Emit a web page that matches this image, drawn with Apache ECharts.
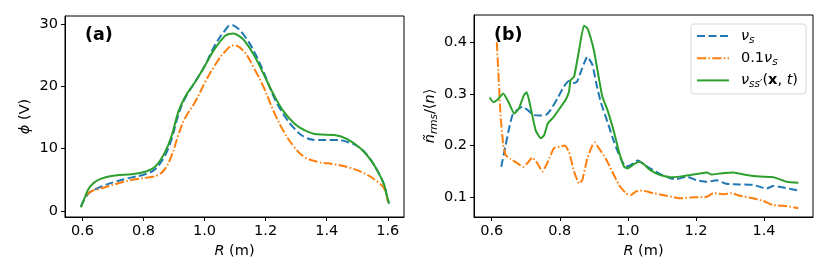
<!DOCTYPE html>
<html>
<head>
<meta charset="utf-8">
<script src="https://cdn.jsdelivr.net/npm/echarts@6/dist/echarts.min.js"></script>
<style>html,body{margin:0;padding:0;background:#fff}#c{width:830px;height:277px}</style>
</head>
<body>
<div id="c"></div>
<script>
// ---- Panel (a): potential phi (V) vs R (m)
const aBlueR = [0.595,0.62,0.652,0.707,0.762,0.805,0.838,0.871,0.893,0.914,0.936,0.969,1.002,1.034,1.067,1.085,1.097,1.129,1.162,1.195,1.227,1.26,1.293,1.326,1.369,1.424,1.467,1.511,1.544,1.571,1.588,1.596,1.604];
const aBlue  = [0.7,2.8,3.7,4.7,5.4,5.9,6.7,9.0,11.7,15.4,18.1,20.7,23.4,26.6,29.0,29.8,29.7,28.2,25.6,22.1,18.3,15.4,13.3,11.9,11.4,11.4,11.1,10.05,8.2,6.0,4.2,2.6,1.2];
const aOrangeR = [0.615,0.63,0.652,0.707,0.762,0.816,0.849,0.871,0.893,0.914,0.936,0.969,1.002,1.034,1.067,1.097,1.129,1.162,1.195,1.227,1.26,1.293,1.326,1.369,1.424,1.479,1.533,1.566,1.588,1.6];
const aOrange  = [2.6,3.2,3.5,4.3,5.0,5.4,5.8,6.8,9.0,12.2,14.9,17.5,20.7,23.4,25.6,26.6,25.6,22.9,19.7,15.9,12.7,10.3,8.7,7.9,7.5,6.9,5.8,4.7,3.6,1.5];
const aGreenR = [0.595,0.609,0.625,0.652,0.707,0.762,0.805,0.838,0.871,0.893,0.914,0.936,0.969,1.002,1.034,1.067,1.08,1.095,1.112,1.129,1.162,1.195,1.227,1.26,1.293,1.326,1.369,1.424,1.467,1.511,1.544,1.571,1.588,1.596,1.604];
const aGreen  = [0.6,2.3,3.9,5.0,5.7,5.9,6.3,7.1,9.5,12.2,15.9,18.3,20.7,23.4,26.1,28.1,28.4,28.5,28.1,27.4,25.0,21.8,18.6,15.9,14.1,13.0,12.3,12.2,11.55,10.05,8.2,6.0,4.2,2.6,1.2];

// ---- Panel (b): n_rms/<n> vs R (m)
const bBlueR = [0.628,0.641,0.651,0.661,0.675,0.69,0.705,0.724,0.744,0.759,0.773,0.793,0.812,0.827,0.842,0.851,0.866,0.881,0.896,0.906,0.92,0.94,0.959,0.979,0.994,1.008,1.028,1.036,1.065,1.095,1.124,1.143,1.173,1.202,1.232,1.261,1.29,1.329,1.368,1.408,1.427,1.457,1.501];
const bBlue  = [0.159,0.201,0.233,0.259,0.269,0.275,0.269,0.259,0.258,0.259,0.269,0.291,0.314,0.325,0.321,0.324,0.35,0.372,0.356,0.324,0.285,0.246,0.208,0.175,0.159,0.162,0.171,0.169,0.156,0.145,0.137,0.135,0.14,0.133,0.13,0.133,0.126,0.125,0.124,0.117,0.122,0.119,0.113];
const bOrangeR = [0.615,0.621,0.626,0.634,0.641,0.656,0.675,0.693,0.705,0.719,0.734,0.749,0.763,0.783,0.801,0.814,0.827,0.842,0.857,0.866,0.881,0.896,0.903,0.915,0.935,0.954,0.974,0.994,1.008,1.023,1.042,1.075,1.114,1.153,1.192,1.232,1.251,1.28,1.305,1.329,1.368,1.398,1.427,1.467,1.501];
const bOrange  = [0.40,0.324,0.259,0.201,0.182,0.174,0.166,0.159,0.166,0.177,0.166,0.15,0.166,0.195,0.198,0.2,0.188,0.15,0.127,0.133,0.175,0.201,0.206,0.195,0.175,0.15,0.124,0.108,0.104,0.111,0.113,0.108,0.103,0.098,0.1,0.101,0.108,0.106,0.108,0.103,0.098,0.093,0.085,0.083,0.079];
const bGreenR = [0.594,0.605,0.616,0.634,0.651,0.666,0.68,0.695,0.703,0.715,0.729,0.744,0.754,0.765,0.783,0.803,0.817,0.827,0.832,0.842,0.856,0.871,0.881,0.891,0.901,0.915,0.925,0.94,0.959,0.974,0.989,1.0,1.018,1.033,1.047,1.065,1.095,1.124,1.153,1.183,1.212,1.232,1.246,1.271,1.31,1.349,1.388,1.427,1.467,1.501];
const bGreen  = [0.293,0.284,0.288,0.301,0.282,0.262,0.272,0.298,0.303,0.272,0.23,0.214,0.22,0.243,0.256,0.275,0.288,0.304,0.327,0.333,0.382,0.432,0.427,0.408,0.382,0.33,0.295,0.269,0.227,0.188,0.159,0.156,0.164,0.169,0.164,0.153,0.143,0.139,0.14,0.143,0.146,0.148,0.144,0.146,0.148,0.143,0.14,0.139,0.13,0.128];

// ---- Tick labels
const aXTicks = [0.6,0.8,1.0,1.2,1.4,1.6];
const aYTicks = [0,10,20,30];
const bXTicks = [0.6,0.8,1.0,1.2,1.4];
const bYTicks = [0.1,0.2,0.3,0.4];

const legendNames = ['vs','v01','vss'];

const FF = 'DejaVu Sans';
const FS = 14.5;
const BLUE = '#1f77b4', ORANGE = '#ff7f0e', GREEN = '#2ca02c';
const DASH = [8, 3.5];
const DASHDOT = [9.2, 2.3, 1.5, 2.3];

const pairs = (xs, ys) => xs.map((x, i) => [x, ys[i]]);

const rich = {
  n:   {fontFamily: FF, fontSize: FS, color: '#000'},
  it:  {fontFamily: FF, fontSize: FS, color: '#000', fontStyle: 'italic'},
  bx:  {fontFamily: FF, fontSize: FS, color: '#000', fontWeight: 'bold'},
  sub: {fontFamily: FF, fontSize: 10.5, color: '#000', fontStyle: 'italic', padding: [8, 0, 0, 0], lineHeight: 16}
};

function xAxis(grid, min, max, ticks) {
  return {
    gridIndex: grid, type: 'value', min: min, max: max,
    axisLine: {show: true, onZero: false, lineStyle: {color: '#000', width: 1}},
    axisTick: {show: true, length: 4, customValues: ticks, lineStyle: {color: '#000', width: 1}},
    axisLabel: {customValues: ticks, formatter: v => v.toFixed(1), fontFamily: FF, fontSize: FS, color: '#000', margin: 7},
    splitLine: {show: false},
    name: '{it|R}{n| (m)}', nameLocation: 'middle', nameGap: 24,
    nameTextStyle: {fontFamily: FF, fontSize: FS, color: '#000', rich: rich}
  };
}
function yAxis(grid, min, max, ticks, fmt, name, gap) {
  return {
    gridIndex: grid, type: 'value', min: min, max: max,
    axisLine: {show: true, onZero: false, lineStyle: {color: '#000', width: 1}},
    axisTick: {show: true, length: 4, customValues: ticks, lineStyle: {color: '#000', width: 1}},
    axisLabel: {customValues: ticks, formatter: fmt, fontFamily: FF, fontSize: FS, color: '#000', margin: 7},
    splitLine: {show: false},
    name: name, nameLocation: 'middle', nameRotate: 90, nameGap: gap,
    nameTextStyle: {fontFamily: FF, fontSize: FS, color: '#000', rich: rich}
  };
}
function line(name, xi, data, color, type) {
  return {
    name: name, type: 'line', xAxisIndex: xi, yAxisIndex: xi, data: data,
    symbol: 'none', showSymbol: false, smooth: xi === 0 ? 0.4 : 0.15, animation: false,
    lineStyle: {color: color, width: 2, type: type}, itemStyle: {color: color}
  };
}

const legendText = {
  vs:  '{it|ν}{sub|s}',
  v01: '{n|0.1}{it|ν}{sub|s}',
  vss: '{it|ν}{sub|ss′}{n|(}{bx|x}{n|, }{it|t}{n|)}'
};

const chart = echarts.init(document.getElementById('c'), null, {renderer: 'canvas'});
chart.setOption({
  backgroundColor: '#fff',
  animation: false,
  title: [
    {text: '(a)', left: 85, top: 26, padding: 0, textStyle: {fontFamily: FF, fontSize: 17.5, fontWeight: 'bold', color: '#000'}},
    {text: '(b)', left: 494, top: 26, padding: 0, textStyle: {fontFamily: FF, fontSize: 17.5, fontWeight: 'bold', color: '#000'}}
  ],
  grid: [
    {left: 65, top: 16, width: 339, height: 201, show: true, borderColor: '#000', borderWidth: 1, backgroundColor: 'transparent', containLabel: false},
    {left: 474, top: 15, width: 339, height: 202, show: true, borderColor: '#000', borderWidth: 1, backgroundColor: 'transparent', containLabel: false}
  ],
  xAxis: [
    xAxis(0, 0.543, 1.653, aXTicks),
    xAxis(1, 0.548, 1.544, bXTicks)
  ],
  yAxis: [
    yAxis(0, -0.96, 31.29, aYTicks, v => String(Math.round(v)), '{it|ϕ}{n| (V)}', 32),
    yAxis(1, 0.0619, 0.4526, bYTicks, v => v.toFixed(1), '{it|ñ}{sub|rms}{n|/⟨}{it|n}{n|⟩}', 32)
  ],
  legend: {
    data: legendNames, orient: 'vertical', left: 691, top: 24,
    padding: [2.5, 8, 4, 5], itemWidth: 32, itemHeight: 14, itemGap: 3.2,
    backgroundColor: '#fff', borderColor: '#d9d9d9', borderWidth: 1, borderRadius: 3,
    itemStyle: {opacity: 0, borderWidth: 0},
    formatter: n => legendText[n],
    textStyle: {fontFamily: FF, fontSize: FS, color: '#000', padding: [0, 0, 0, 7], rich: rich}
  },
  series: [
    line('aBlue', 0, pairs(aBlueR, aBlue), BLUE, DASH),
    line('aOrange', 0, pairs(aOrangeR, aOrange), ORANGE, DASHDOT),
    line('aGreen', 0, pairs(aGreenR, aGreen), GREEN, 'solid'),
    line('vs', 1, pairs(bBlueR, bBlue), BLUE, DASH),
    line('v01', 1, pairs(bOrangeR, bOrange), ORANGE, DASHDOT),
    line('vss', 1, pairs(bGreenR, bGreen), GREEN, 'solid')
  ]
});
</script>
</body>
</html>
